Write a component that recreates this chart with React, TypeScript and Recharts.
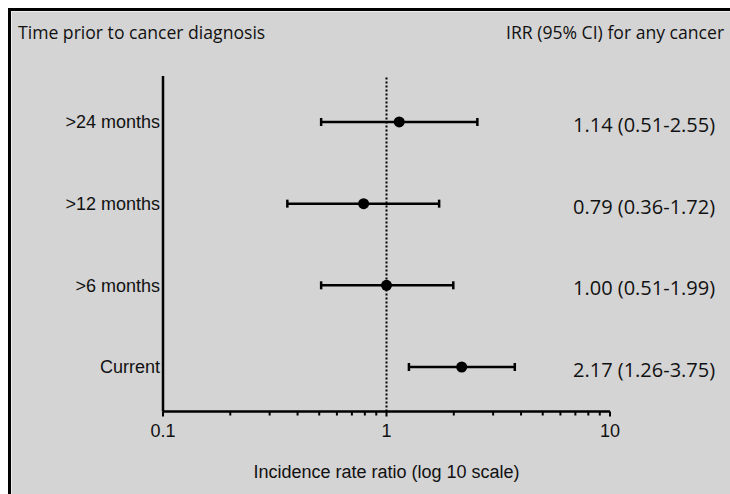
import { ScatterChart, Scatter, XAxis, YAxis, ErrorBar, ReferenceLine } from "recharts";

// values
const groups = [">24 months", ">12 months", ">6 months", "Current"];
const irr = [1.14, 0.79, 1.0, 2.17];
const ciLow = [0.51, 0.36, 0.51, 1.26];
const ciHigh = [2.55, 1.72, 1.99, 3.75];
const rowPos = [4, 3, 2, 1];

const xTicks = [0.1, 0.2, 0.3, 0.4, 0.5, 0.6, 0.7, 0.8, 0.9, 1, 2, 3, 4, 5, 6, 7, 8, 9, 10];
const xLabels = [0.1, 1, 10];

const data = groups.map((g, i) => ({
  group: g,
  irr: irr[i],
  row: rowPos[i],
  err: [irr[i] - ciLow[i], ciHigh[i] - irr[i]],
  text: `${irr[i].toFixed(2)} (${ciLow[i].toFixed(2)}-${ciHigh[i].toFixed(2)})`,
}));

const sans = "'Liberation Sans', Arial, sans-serif";
const humanist = "'Open Sans', 'Noto Sans', sans-serif";

function XTick(props: any) {
  const { x, y, payload } = props;
  const major = xLabels.includes(payload.value);
  return (
    <g>
      <line x1={x} y1={y} x2={x} y2={y + (major ? 5 : 4)} stroke="#000" strokeWidth={2} />
      {major && (
        <text x={x} y={y + 25.5} textAnchor="middle" fontSize={18} fontFamily={sans} fill="#111">
          {payload.value}
        </text>
      )}
    </g>
  );
}

function LeftTick(props: any) {
  const { x, y, payload } = props;
  const d = data.find((r) => r.row === payload.value);
  return (
    <text x={x - 3} y={y + 6.5} textAnchor="end" fontSize={18} fontFamily={sans} fill="#111">
      {d ? d.group : ""}
    </text>
  );
}

function RightTick(props: any) {
  const { x, y, payload } = props;
  const d = data.find((r) => r.row === payload.value);
  return (
    <text x={x - 37} y={y + 10} textAnchor="start" fontSize={20} fontFamily={humanist} fill="#111">
      {d ? d.text : ""}
    </text>
  );
}

const Dot = (props: any) => <circle cx={props.cx} cy={props.cy} r={5.5} fill="#000" />;

const headerStyle = {
  position: "absolute" as const,
  top: 9,
  fontFamily: humanist,
  fontSize: 17.6,
  color: "#111",
  whiteSpace: "nowrap" as const,
};

export default function App() {
  return (
    <div
      style={{
        position: "fixed",
        left: 8,
        top: 8,
        right: 0,
        bottom: 0,
        minWidth: 722,
        minHeight: 486,
        boxSizing: "border-box",
        borderLeft: "3px solid #000",
        borderTop: "3px solid #000",
        background: "#d4d4d4",
        boxShadow: "inset 1px 1px 0 #ececec",
        overflow: "hidden",
      }}
    >
      <div style={{ ...headerStyle, left: 7 }}>Time prior to cancer diagnosis</div>
      <div style={{ ...headerStyle, left: 495 }}>IRR (95% CI) for any cancer</div>
      <div style={{ position: "absolute", left: 0, top: 0 }}>
        <ScatterChart width={719} height={483} margin={{ top: 65, right: 0, bottom: 12.5, left: 12 }}>
          <XAxis
            type="number"
            dataKey="irr"
            scale="log"
            domain={[0.1, 10]}
            allowDataOverflow
            ticks={xTicks}
            interval={0}
            tick={<XTick />}
            tickSize={0}
            tickMargin={0}
            tickLine={false}
            height={70}
            axisLine={{ stroke: "#000", strokeWidth: 2.5 }}
            label={{
              value: "Incidence rate ratio (log 10 scale)",
              position: "insideBottom",
              offset: 3.5,
              fontSize: 18,
              fontFamily: sans,
              fill: "#111",
            }}
          />
          <YAxis
            yAxisId="left"
            type="number"
            dataKey="row"
            domain={[0.455, 4.563]}
            allowDataOverflow
            ticks={rowPos}
            interval={0}
            tick={<LeftTick />}
            tickSize={0}
            tickMargin={0}
            tickLine={false}
            width={140}
            axisLine={{ stroke: "#000", strokeWidth: 2.5 }}
          />
          <YAxis
            yAxisId="right"
            orientation="right"
            type="number"
            dataKey="row"
            domain={[0.455, 4.563]}
            allowDataOverflow
            ticks={rowPos}
            interval={0}
            tick={<RightTick />}
            tickSize={0}
            tickMargin={0}
            tickLine={false}
            axisLine={false}
            width={120}
          />
          <ReferenceLine yAxisId="left" x={1} stroke="#000" strokeWidth={2} strokeDasharray="2 2" />
          <Scatter yAxisId="left" data={data} shape={<Dot />} isAnimationActive={false}>
            <ErrorBar dataKey="err" direction="x" width={4} stroke="#000" strokeWidth={2.5} />
          </Scatter>
        </ScatterChart>
      </div>
    </div>
  );
}
